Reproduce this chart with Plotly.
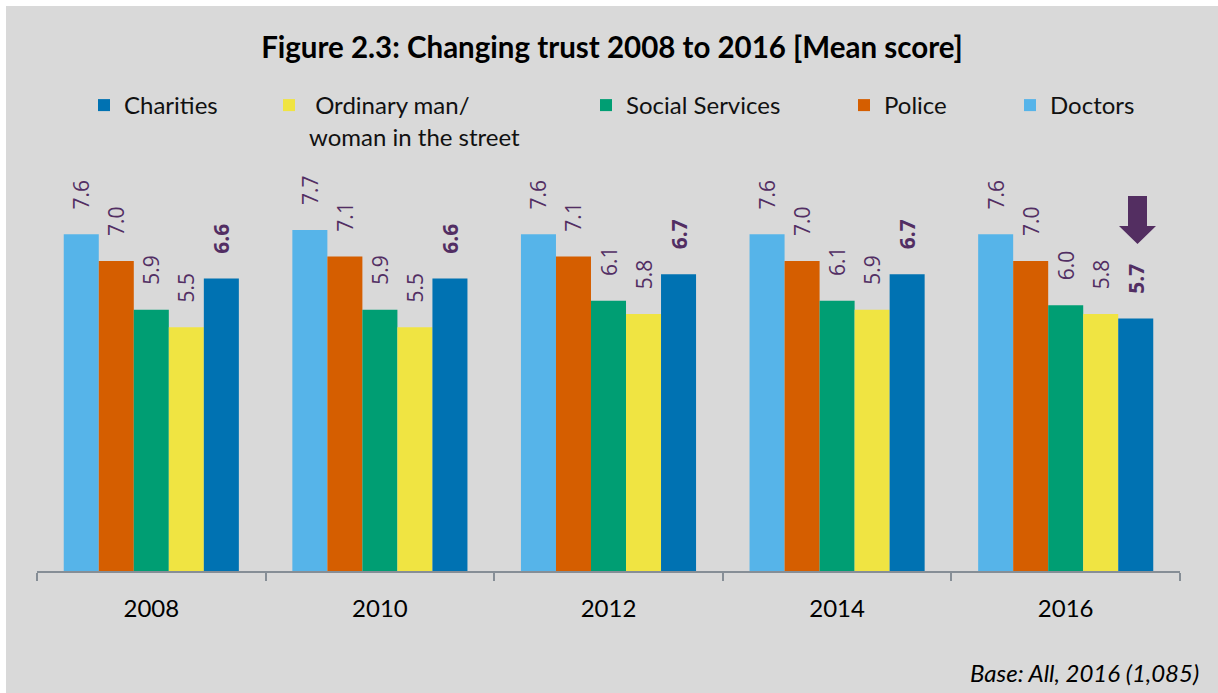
import plotly.graph_objects as go

years = ["2008", "2010", "2012", "2014", "2016"]
doctors = [7.6, 7.7, 7.6, 7.6, 7.6]
police = [7.0, 7.1, 7.1, 7.0, 7.0]
social_services = [5.9, 5.9, 6.1, 6.1, 6.0]
ordinary = [5.5, 5.5, 5.8, 5.9, 5.8]
charities = [6.6, 6.6, 6.7, 6.7, 5.7]

values = [doctors, police, social_services, ordinary, charities]
colors = ["#56b4e9", "#d55e00", "#009e73", "#f0e442", "#0072b2"]
legend_text = ["Doctors", "Police", "Social Services", "\u00a0Ordinary man/<br>woman in the street", "Charities"]
legend_ids = ["legend5", "legend4", "legend3", "legend2", "legend"]
# legend left edges in reference-pixel coordinates
legend_left_px = [1010, 844, 586, 269, 84]

OFF = 6  # page offset of the figure (white frame at top/left)
W, H = 1218 - OFF, 693 - OFF
ML, MR, MT, MB = 37 - OFF, 38, 0, 122
PW, PH = W - ML - MR, H - MT - MB
UNIT_PX = 44.3
YMAX = PH / UNIT_PX
LABEL_COLOR = "#522e63"
PAD = "\u00a0" * 4


def px(x):
    return (x - OFF - ML) / PW


def py(y):
    return (H - MB - (y - OFF)) / PH


fig = go.Figure()
for i in range(5):
    fig.add_trace(go.Bar(
        x=years, y=values[i], name=legend_text[i],
        marker=dict(color=colors[i], line=dict(width=0)),
        text=[PAD + f"{v:.1f}" for v in values[i]],
        textposition="outside", textangle=-90, constraintext="none", cliponaxis=False,
        textfont=dict(family="Open Sans", size=21, color=LABEL_COLOR,
                      weight="bold" if i == 4 else "normal"),
        legend=legend_ids[i], hoverinfo="x+y+name",
    ))

legend_common = dict(
    orientation="h", xref="paper", yref="paper", xanchor="left", yanchor="top",
    y=py(83), bgcolor="rgba(0,0,0,0)", borderwidth=0,
    font=dict(family="Lato", size=24, color="#111111"), valign="top",
)
layout_legends = {}
for lid, lx in zip(legend_ids, legend_left_px):
    layout_legends[lid] = dict(legend_common, x=px(lx))

arrow_pts = [(1128, 196), (1147, 196), (1147, 226), (1156, 226), (1137.5, 244), (1119, 226), (1128, 226)]
path = "M " + " L ".join(f"{px(a):.5f},{py(b):.5f}" for a, b in arrow_pts) + " Z"
shapes = [dict(type="path", xref="paper", yref="paper", path=path,
               fillcolor="#532e61", line=dict(width=0))]

fig.update_layout(
    width=W, height=H,
    margin=dict(l=ML, r=MR, t=MT, b=MB, pad=0, autoexpand=False),
    paper_bgcolor="#d9d9d9", plot_bgcolor="#d9d9d9",
    barmode="group", bargap=0.234, bargroupgap=0,
    title=dict(text="<b>Figure 2.3: Changing trust 2008 to 2016 [Mean score]</b>",
               x=(612 - OFF) / W, xanchor="center", xref="container",
               y=1 - (48 - OFF) / H, yanchor="middle", yref="container",
               font=dict(family="Lato", size=29.5, color="#000000")),
    xaxis=dict(type="category", range=[-0.5, 4.5], showgrid=False, zeroline=False,
               showline=True, linecolor="#868e96", linewidth=2,
               ticks="outside", tickson="boundaries", ticklen=8, tickwidth=1.5, tickcolor="#868e96",
               tickfont=dict(family="Lato", size=24, color="#000000"), ticklabelstandoff=15),
    yaxis=dict(range=[0, YMAX], visible=False, showgrid=False, zeroline=False),
    shapes=shapes,
    annotations=[dict(text="<i>Base: All, 2016 (1,085)</i>", xref="paper", yref="paper",
                      x=px(1201), y=py(672), xanchor="right", yanchor="middle", showarrow=False,
                      font=dict(family="Lato", size=24, color="#000000"))],
    showlegend=True,
    **layout_legends,
)

fig.write_html("out.html", post_script="document.body.style.margin='%dpx 0 0 %dpx';" % (OFF, OFF))
